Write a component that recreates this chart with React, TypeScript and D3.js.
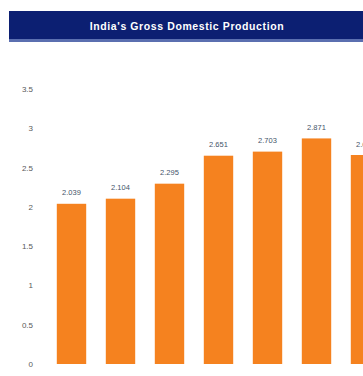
import React from "react";
import * as d3 from "d3";

const years = ["2014", "2015", "2016", "2017", "2018", "2019", "2020"];
const gdp = [2.039, 2.104, 2.295, 2.651, 2.703, 2.871, 2.66];
const yTicks = [0, 0.5, 1, 1.5, 2, 2.5, 3, 3.5];

export default function App() {
  const W = 363, H = 376;
  const y = d3.scaleLinear().domain([0, 3.5]).range([364, 89]);
  const x = d3.scaleBand().domain(years).range([47, 47 + 49 * 7]).paddingInner(0.4).paddingOuter(0.2);
  return (
    <svg width={W} height={H} style={{ position: "fixed", left: 0, top: 0, background: "#fff" }} fontFamily="Arial, 'Liberation Sans', sans-serif">
      <rect x={9} y={11} width={W} height={31} fill="#0c1f72" />
      <rect x={9} y={39} width={W} height={3} fill="#5b6fb0" />
      <text x={187} y={30} textAnchor="middle" fill="#fff" fontSize={10.5} fontWeight="bold" letterSpacing={0.6}>India's Gross Domestic Production</text>
      {yTicks.map(t => (
        <text key={t} x={33} y={y(t) + 3} textAnchor="end" fontSize={8} fill="#595959">{t}</text>
      ))}
      {years.map((yr, i) => (
        <g key={yr}>
          <rect x={x(yr)} y={y(gdp[i])} width={x.bandwidth()} height={y(0) - y(gdp[i])} fill="#f5821f" />
          <text x={(x(yr) as number) + x.bandwidth() / 2} y={y(gdp[i]) - 8.5} textAnchor="middle" fontSize={7.5} fill="#44546a">{gdp[i].toFixed(3)}</text>
        </g>
      ))}
    </svg>
  );
}
